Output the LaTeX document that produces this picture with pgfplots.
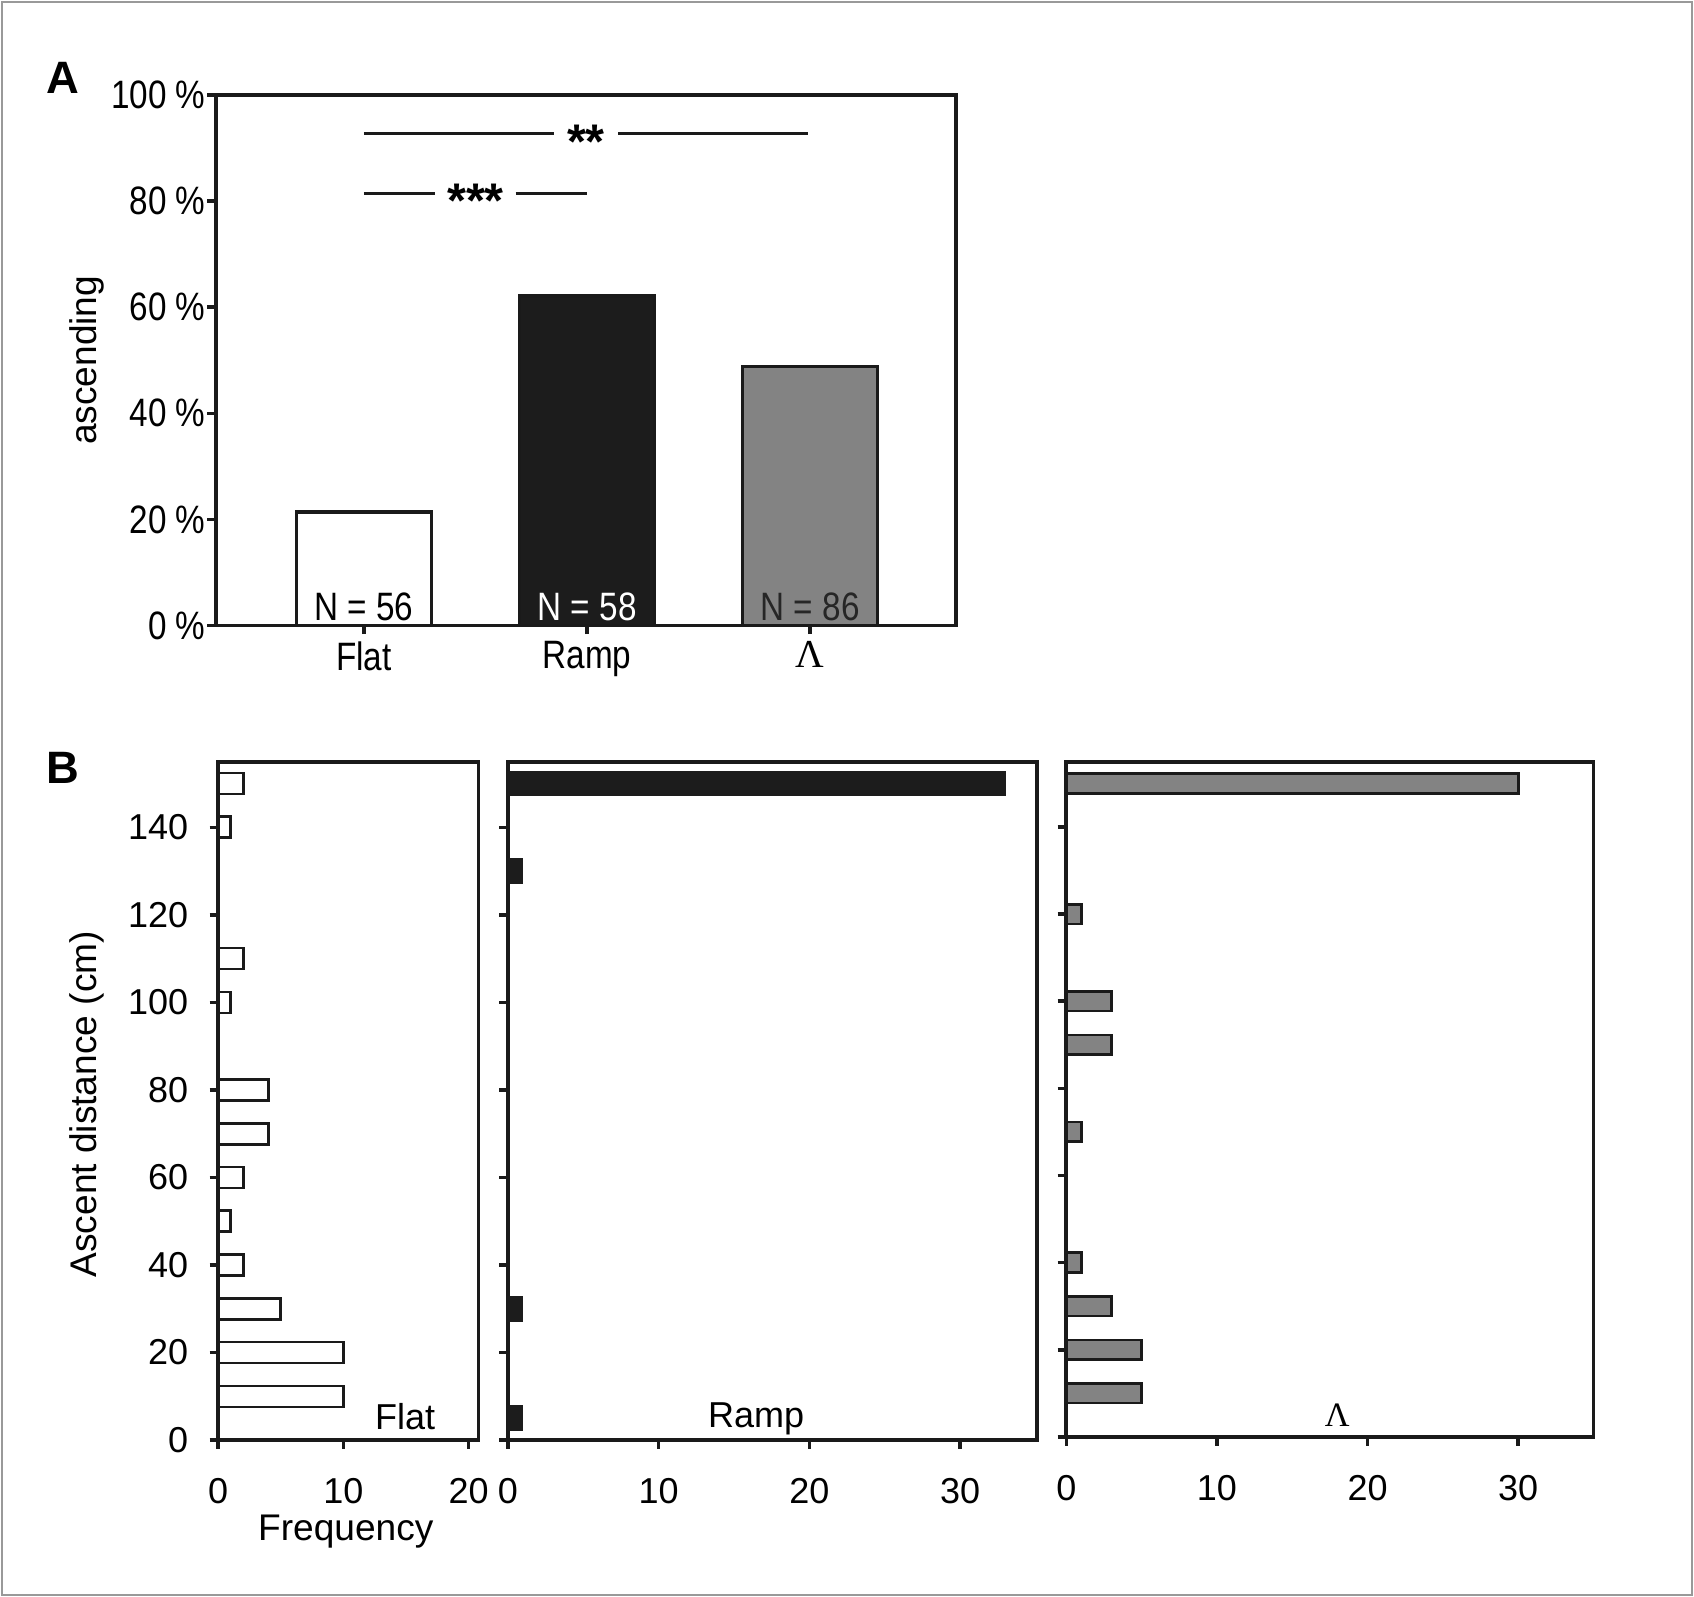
\documentclass[border=0pt]{standalone}
\usepackage{fontspec}
\setmainfont{Liberation Sans}
\newfontfamily\narrowfont[FakeStretch=0.84]{Liberation Sans}
\newfontfamily\seriffont{Liberation Serif}
\usepackage{pgfplots}
\pgfplotsset{compat=1.18}
\definecolor{barblack}{HTML}{1C1C1C}
\definecolor{bargray}{HTML}{838383}
\definecolor{linec}{HTML}{1A1A1A}
\pgfplotsset{
  common/.style={scale only axis, anchor=south west,
    axis line style={line width=1.05pt, linec},
    tick align=outside, major tick length=2.4pt,
    every tick/.style={line width=1.0pt, linec},
    xtick pos=left, ytick pos=left,
    /pgf/number format/assume math mode=true, clip=false},
  btick/.style={tick label style={font=\fontsize{10}{12}\selectfont},
    xticklabel style={yshift=-4.8pt}, yticklabel style={xshift=-2.4pt},
    ymin=0, ymax=155, ytick={0,20,40,60,80,100,120,140}},
}
\begin{document}
\begin{tikzpicture}
\path[use as bounding box] (0,0) rectangle (470.4pt,-443.4pt);
\draw[line width=0.6pt, black!40] (0.6pt,-0.6pt) rectangle (469.8pt,-442.8pt);
\node[font=\bfseries\fontsize{12.6}{14}\selectfont] at (17.4pt,-21.6pt) {A};
\node[font=\bfseries\fontsize{12.6}{14}\selectfont] at (17.4pt,-213.3pt) {B};

% Panel A
\begin{axis}[common, at={(60pt,-173.7pt)}, width=205.5pt, height=147.3pt,
  xmin=-0.663, xmax=2.654, ymin=0, ymax=100,
  xtick={0,1,2}, xticklabels={Flat,Ramp,{\seriffont Λ}},
  ytick={0,20,40,60,80,100},
  yticklabels={0 \%,20 \%,40 \%,60 \%,80 \%,100 \%},
  tick label style={font=\narrowfont\fontsize{11}{12}\selectfont},
  yticklabel style={xshift=3pt},
  xticklabel style={yshift=1.5pt},
  ylabel={ascending},
  ylabel style={at={(axis description cs:-0.175,0.5)}, anchor=center, font=\fontsize{10.3}{12}\selectfont}]
\addplot[ybar, bar shift=0pt, bar width=0.605, fill=white, draw=linec, line width=0.9pt] coordinates {(0,21.4)};
\addplot[ybar, bar shift=0pt, bar width=0.605, fill=barblack, draw=linec, line width=0.9pt] coordinates {(1,62.1)};
\addplot[ybar, bar shift=0pt, bar width=0.605, fill=bargray, draw=linec, line width=0.9pt] coordinates {(2,48.8)};
\node[font=\narrowfont\fontsize{11}{12}\selectfont] at (axis cs:0,3.6) {N = 56};
\node[font=\narrowfont\fontsize{11}{12}\selectfont, text=white] at (axis cs:1,3.6) {N = 58};
\node[font=\narrowfont\fontsize{11}{12}\selectfont, text=black!85] at (axis cs:2,3.6) {N = 86};
\draw[line width=0.8pt, linec] (axis cs:0,92.7) -- (axis cs:0.85,92.7) (axis cs:1.14,92.7) -- (axis cs:1.99,92.7);
\node[font=\bfseries\fontsize{13.5}{14}\selectfont, yshift=-0.22em] at (axis cs:0.995,92.7) {**};
\draw[line width=0.8pt, linec] (axis cs:0,81.5) -- (axis cs:0.32,81.5) (axis cs:0.68,81.5) -- (axis cs:1.0,81.5);
\node[font=\bfseries\fontsize{13.5}{14}\selectfont, yshift=-0.22em] at (axis cs:0.5,81.5) {***};
\end{axis}

% Panel B - Flat
\begin{axis}[common, btick, at={(60.6pt,-399.9pt)}, width=72.3pt, height=188.4pt,
  xmin=0, xmax=20.8, xtick={0,10,20},
  xlabel={Frequency},
  xlabel style={at={(axis description cs:0.49,-0.135)}, anchor=center, font=\fontsize{10.3}{12}\selectfont},
  ylabel={Ascent distance (cm)},
  ylabel style={at={(axis description cs:-0.506,0.495)}, anchor=center, font=\fontsize{10.3}{12}\selectfont}]
\addplot[xbar, bar shift=0pt, bar width=4.8, fill=white, draw=linec, line width=0.75pt]
  coordinates {(2,150) (1,140) (2,110) (1,100) (4,80) (4,70) (2,60) (1,50) (2,40) (5,30) (10,20) (10,10)};
\node[font=\fontsize{10}{12}\selectfont] at (axis description cs:0.718,0.035) {Flat};
\end{axis}

% Panel B - Ramp
\begin{axis}[common, btick, at={(141pt,-399.9pt)}, width=147pt, height=188.4pt,
  xmin=0, xmax=35.1, xtick={0,10,20,30}, yticklabels={}]
\addplot[xbar, bar shift=0pt, bar width=5.6, fill=barblack, draw=barblack, line width=0.3pt]
  coordinates {(33,150) (1,130) (1,30) (1,5)};
\node[font=\fontsize{10}{12}\selectfont] at (axis description cs:0.469,0.032) {Ramp};
\end{axis}

% Panel B - Lambda
\begin{axis}[common, btick, at={(296.1pt,-399pt)}, width=146.4pt, height=187.5pt,
  xmin=0, xmax=35, xtick={0,10,20,30}, yticklabels={}]
\addplot[xbar, bar shift=0pt, bar width=4.5, fill=bargray, draw=linec, line width=0.75pt]
  coordinates {(30,150) (1,120) (3,100) (3,90) (1,70) (1,40) (3,30) (5,20) (5,10)};
\node[font=\seriffont\fontsize{9.5}{12}\selectfont] at (axis description cs:0.514,0.032) {Λ};
\end{axis}
\end{tikzpicture}
\end{document}
